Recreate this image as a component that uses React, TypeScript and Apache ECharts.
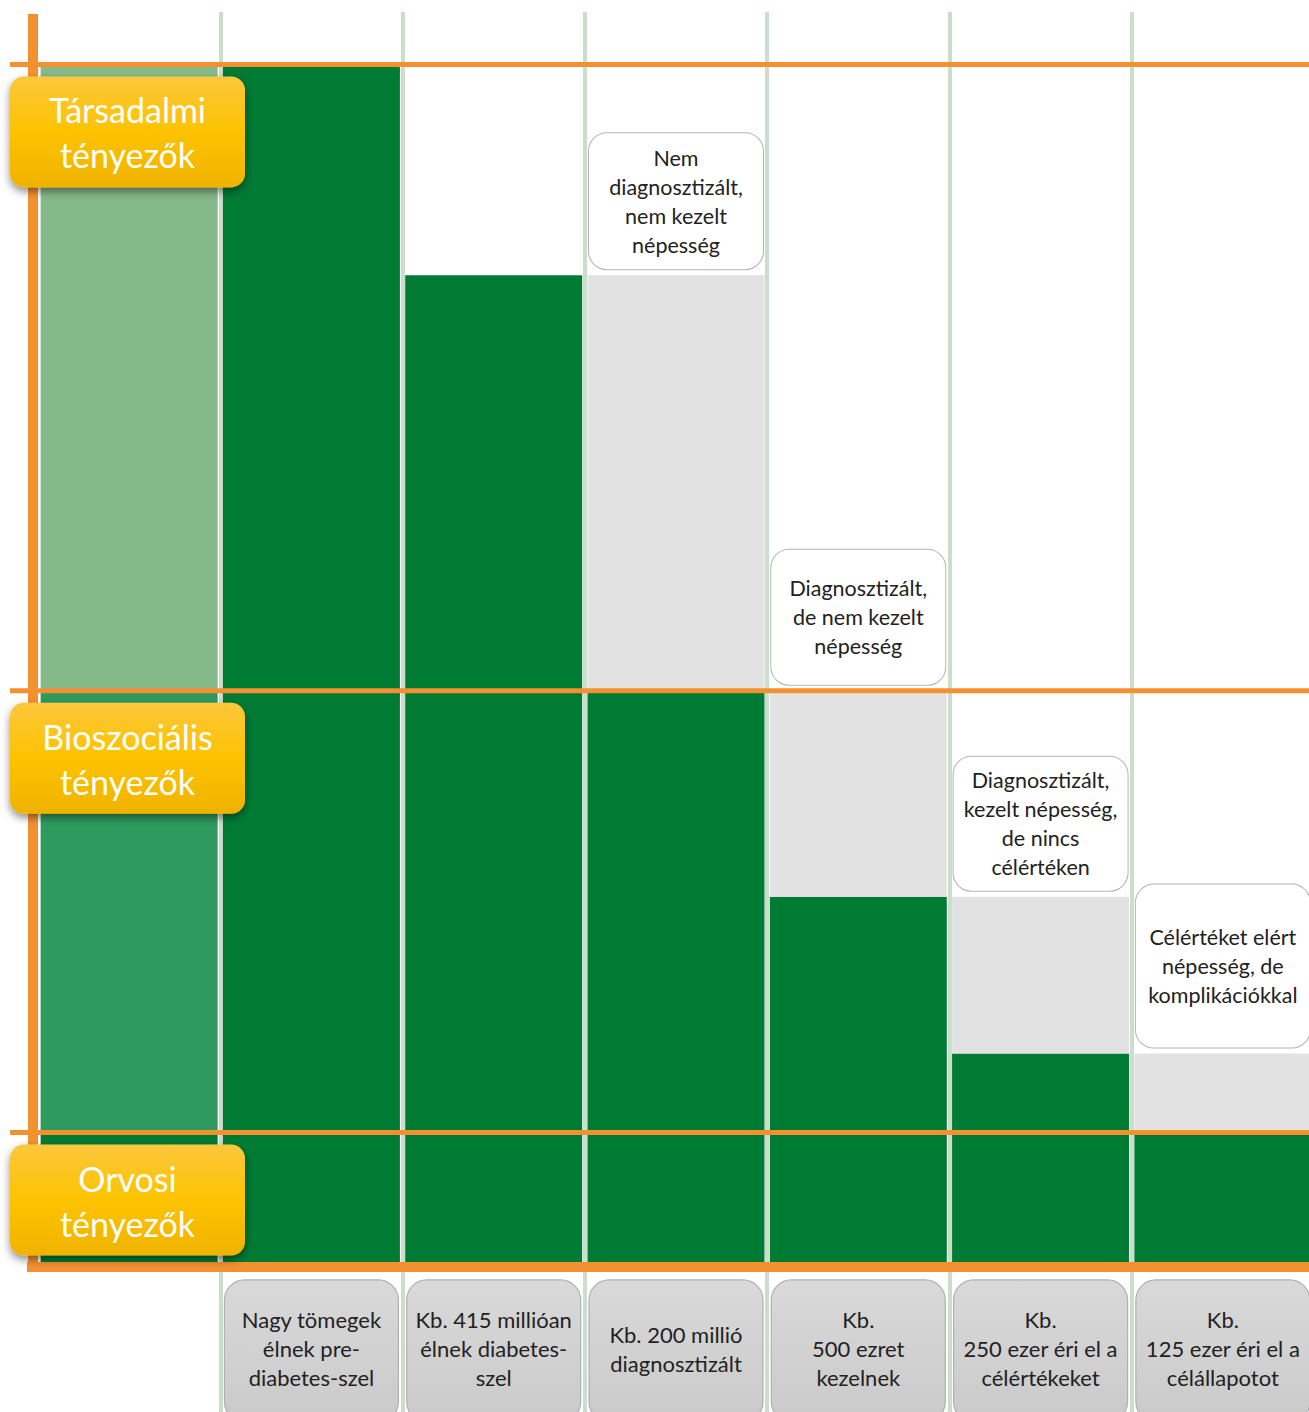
import React, { useEffect, useRef } from "react";
import * as echarts from "echarts";

// Stage captions under each column (first column is the factor band column)
const stageLabels = [
  "",
  "Nagy tömegek\nélnek pre-\ndiabetes-szel",
  "Kb. 415 millióan\nélnek diabetes-\nszel",
  "Kb. 200 millió\ndiagnosztizált",
  "Kb.\n500 ezret\nkezelnek",
  "Kb.\n250 ezer éri el a\ncélértékeket",
  "Kb.\n125 ezer éri el a\ncélállapotot",
];

// Factor bands, bottom to top, and the level where each band ends
const bandNames = ["Orvosi\ntényezők", "Bioszociális\ntényezők", "Társadalmi\ntényezők"];
const bandTops = [10.8, 47.7, 100];

// Relative population size reached at each stage (columns 1..6)
const stageLevels = [100, 82.4, 47.7, 30.5, 17.4, 10.8];

// Callouts describing the population lost between a stage and the previous one
const lossCallouts = [
  null,
  null,
  "Nem\ndiagnosztizált,\nnem kezelt\nnépesség",
  "Diagnosztizált,\nde nem kezelt\nnépesség",
  "Diagnosztizált,\nkezelt népesség,\nde nincs\ncélértéken",
  "Célértéket elért\nnépesség, de\nkomplikációkkal",
];

// Styling
const FONT = "Lato, 'Open Sans', sans-serif";
const ORANGE = "#f39131";
const DARK_GREEN = "#007b34";
const MID_GREEN = "#2f9a5d";
const LIGHT_GREEN = "#86b98a";
const LOSS_GRAY = "#e2e2e2";
const GRID_GREEN = "#c9dfc9";
const calloutBoxHeight = [0, 0, 136, 135, 134, 163];
const Y_MIN = -12.53;
const Y_MAX = 104.38;
const CHART_H = 1412;
const GRID_TOP = 12;

const reachedData = [bandTops[0], ...stageLevels];
const lossData = [
  null,
  ...stageLevels.map((lvl, i) => {
    const text = lossCallouts[i];
    if (!text) return null;
    const lines = text.split("\n").length;
    const padV = Math.max(4, (calloutBoxHeight[i] - lines * 29) / 2);
    return {
      value: +(stageLevels[i - 1] - lvl).toFixed(1),
      label: { show: true, formatter: text, padding: [padV, 4] },
    };
  }),
];
const midBandData = [bandTops[1] - bandTops[0], null, null, null, null, null, null];
const topBandData = [bandTops[2] - bandTops[1], null, null, null, null, null, null];

// distance from the grid bottom up to the zero line, so the stage axis sits on zero
const zeroLift = ((0 - Y_MIN) / (Y_MAX - Y_MIN)) * (CHART_H - GRID_TOP);

export default function App() {
  const ref = useRef<HTMLDivElement>(null);

  useEffect(() => {
    document.body.style.margin = "0";
    const chart = echarts.init(ref.current!, null, { renderer: "svg" });
    chart.setOption({
      animation: false,
      textStyle: { fontFamily: FONT },
      grid: {
        left: 38,
        right: -5,
        top: GRID_TOP,
        bottom: 0,
        containLabel: false,
        outerBoundsMode: "none",
      },
      xAxis: {
        type: "category",
        data: stageLabels,
        z: 1,
        offset: -zeroLift,
        axisLine: { show: false, onZero: false },
        axisTick: { show: false },
        axisLabel: {
          interval: 0,
          margin: 87,
          verticalAlign: "middle",
          fontSize: 22,
          lineHeight: 29,
          color: "#222",
          fontFamily: FONT,
        },
        splitLine: {
          show: true,
          interval: (i: number) => i > 0,
          lineStyle: { color: GRID_GREEN, width: 4 },
        },
      },
      yAxis: {
        type: "value",
        min: Y_MIN,
        max: Y_MAX,
        axisLine: { show: false },
        axisTick: { show: false },
        axisLabel: { show: false },
        splitLine: { show: false },
      },
      series: [
        {
          name: "reached",
          type: "bar",
          stack: "cascade",
          barWidth: 177,
          itemStyle: { color: DARK_GREEN },
          data: reachedData,
        },
        {
          name: "lost",
          type: "bar",
          stack: "cascade",
          barWidth: 177,
          itemStyle: { color: LOSS_GRAY },
          label: {
            show: false,
            position: "top",
            distance: 6,
            backgroundColor: "#ffffff",
            borderColor: "#b4b4b4",
            borderWidth: 1,
            borderRadius: 18,
            width: 166,
            overflow: "none",
            align: "center",
            color: "#222",
            fontSize: 21.5,
            lineHeight: 29,
            fontFamily: FONT,
          },
          data: lossData,
        },
        {
          name: "bioszocialis",
          type: "bar",
          stack: "cascade",
          barWidth: 177,
          itemStyle: { color: MID_GREEN },
          data: midBandData,
        },
        {
          name: "tarsadalmi",
          type: "bar",
          stack: "cascade",
          barWidth: 177,
          itemStyle: { color: LIGHT_GREEN },
          data: topBandData,
        },
      ],
    });

    const yPx = (v: number) => chart.convertToPixel({ yAxisIndex: 0 }, v) as number;
    const xPx = (i: number) => chart.convertToPixel({ xAxisIndex: 0 }, i) as number;
    const zeroY = yPx(0);
    const W = 1309;

    const elements: any[] = [];

    // caption boxes under each stage
    for (let i = 1; i < stageLabels.length; i++) {
      const cx = xPx(i);
      elements.push({
        type: "rect",
        z: -1,
        shape: { x: cx - 87, y: zeroY + 18, width: 174, height: 142, r: 20 },
        style: {
          fill: {
            type: "linear",
            x: 0, y: 0, x2: 0, y2: 1,
            colorStops: [
              { offset: 0, color: "#d9d9d9" },
              { offset: 1, color: "#cacaca" },
            ],
          },
          stroke: "#aeb0b4",
          lineWidth: 1.2,
        },
      });
    }

    // orange frame lines at the band borders
    bandTops.forEach((top) => {
      const y = yPx(top);
      elements.push({
        type: "rect",
        z: 10,
        shape: { x: 10, y: y - 2.5, width: W - 10, height: 5 },
        style: { fill: ORANGE },
      });
    });
    elements.push({
      type: "rect",
      z: 10,
      shape: { x: 27, y: zeroY, width: W - 27, height: 10 },
      style: { fill: ORANGE },
    });
    elements.push({
      type: "rect",
      z: 10,
      shape: { x: 28, y: 14, width: 10, height: zeroY + 10 - 14 },
      style: { fill: ORANGE },
    });

    // yellow factor tags
    bandNames.forEach((name, i) => {
      const top = yPx(bandTops[i]) + 12;
      elements.push({
        type: "group",
        z: 11,
        children: [
          {
            type: "rect",
            z: 11,
            shape: { x: 10, y: top, width: 235, height: 111, r: 14 },
            style: {
              fill: {
                type: "linear",
                x: 0, y: 0, x2: 0, y2: 1,
                colorStops: [
                  { offset: 0, color: "#fcc73c" },
                  { offset: 0.5, color: "#fdc300" },
                  { offset: 1, color: "#efb300" },
                ],
              },
              shadowBlur: 8,
              shadowOffsetX: 0,
              shadowOffsetY: 4,
              shadowColor: "rgba(0,0,0,0.45)",
            },
          },
          {
            type: "text",
            z: 12,
            x: 127.5,
            y: top + 56,
            style: {
              text: name,
              fill: "#ffffff",
              fontSize: 34,
              fontFamily: FONT,
              lineHeight: 45,
              align: "center",
              verticalAlign: "middle",
            },
          },
        ],
      });
    });

    chart.setOption({ graphic: { elements } });

    return () => chart.dispose();
  }, []);

  return <div ref={ref} style={{ width: 1309, height: CHART_H }} />;
}
